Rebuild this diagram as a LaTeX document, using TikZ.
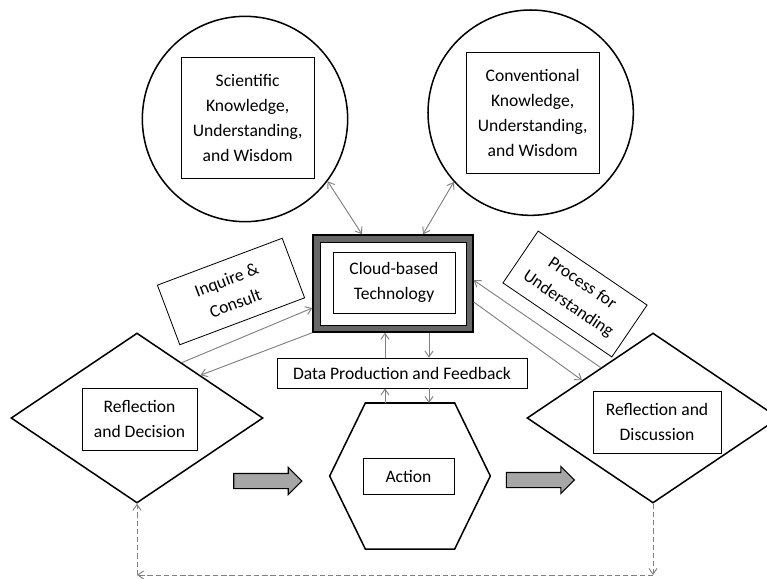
\documentclass[tikz,border=0pt]{standalone}
\usepackage{fontspec}
\setmainfont{Carlito}
\usetikzlibrary{positioning}
\usetikzlibrary{shapes.geometric,shapes.arrows,arrows.meta}

\begin{document}
\begin{tikzpicture}
                [box/.style = {draw, line width=0.7pt, align=center, inner sep=0pt},
                 circ/.style = {circle, draw, line width=1.3pt, inner sep=0pt, minimum size=6.16cm},
                 dia/.style = {diamond, draw, line width=1.3pt, inner sep=0pt, minimum width=7.56cm, minimum height=5.1cm},
                 link/.style = {gray, line width=0.8pt},
                 loopline/.style = {dash pattern=on 4.5pt off 2.5pt},
                 bigarrow/.style = {single arrow, draw, line width=0.9pt, fill=gray!70, inner xsep=0pt, inner ysep=0.21cm, minimum height=2.04cm, single arrow head extend=0.18cm},
                 >={Straight Barb[length=5pt,width=7pt]},
                 every node/.style = {font=\fontsize{15pt}{21.3pt}\selectfont}]
                \useasboundingbox (0,0) rectangle (23.01,-17.34);
                % Knowledge circles
                \node[circ] (lcirc) at (7.35,-3.57) {};
                \node[circ] (rcirc) at (15.92,-3.38) {};
                \node[box, minimum width=3.99cm, minimum height=3.63cm] (sci) at (7.43,-3.53) {Scientific\\Knowledge,\\Understanding,\\and Wisdom};
                \node[box, minimum width=3.99cm, minimum height=3.63cm] (conv) at (15.98,-3.38) {Conventional\\Knowledge,\\Understanding,\\and Wisdom};
                % Cloud technology in its thick frame
                \node[draw, line width=1.2pt, fill=black!60, minimum width=4.8cm, minimum height=2.91cm] (cloudframe) at (11.79,-8.505) {};
                \node[draw, line width=0.8pt, fill=white, minimum width=4.38cm, minimum height=2.49cm] (cloudgap) at (cloudframe) {};
                \node[box, minimum width=3.66cm, minimum height=1.83cm] (cloud) at (11.82,-8.475) {Cloud-based\\Technology};
                % Tilted labels
                \node[box, rotate=20.6, minimum width=4cm, minimum height=1.91cm] (inq) at (6.93,-8.745) {Inquire \&\\Consult};
                \node[box, rotate=-34.2, minimum width=3.95cm, minimum height=1.88cm] (proc) at (17.25,-8.82) {Process for\\Understanding};
                % Reflection diamonds
                \node[dia] (ldia) at (4.11,-12.54) {};
                \node[dia] (rdia) at (19.59,-12.54) {};
                \node[box, minimum width=3.45cm, minimum height=1.86cm] (dec) at (4.185,-12.57) {Reflection\\and Decision};
                \node[box, minimum width=3.84cm, minimum height=1.86cm] (disc) at (19.71,-12.66) {Reflection and\\Discussion};
                % Data box and action hexagon
                \node[box, minimum width=7.5cm, minimum height=0.9cm] (data) at (12.06,-11.19) {Data Production and Feedback};
                \coordinate (act) at (12.3,-14.28);
                \draw[line width=1.3pt] ([shift={(-1.34,2.19)}]act) -- ([shift={(1.34,2.19)}]act) -- ([shift={(2.41,0)}]act)
                    -- ([shift={(1.34,-2.19)}]act) -- ([shift={(-1.34,-2.19)}]act) -- ([shift={(-2.41,0)}]act) -- cycle;
                \coordinate (hextop) at (12.3,-12.09);
                \node[box, minimum width=2.73cm, minimum height=1.08cm] (action) at (12.255,-14.28) {Action};
                % Flow arrows
                \node[bigarrow] (fwd1) at (7.92,-14.43) {};
                \node[bigarrow] (fwd2) at (16.1,-14.4) {};
                % Links
                \coordinate (upx) at (11.55,0);
                \coordinate (downx) at (12.87,0);
                \path[link,<->] (lcirc.-37) edge ([xshift=-0.93cm]cloudframe.north);
                \path[link,<->] (rcirc.-138) edge ([xshift=0.9cm]cloudframe.north);
                \path[link,->] (data.north -| upx) edge (cloudframe.south -| upx);
                \path[link,->] (cloudframe.south -| downx) edge (data.north -| downx);
                \path[link,->] (hextop -| upx) edge (data.south -| upx);
                \path[link,->] (data.south -| downx) edge (hextop -| downx);
                \path[link,->] (ldia.51) edge ([yshift=-0.735cm]cloudframe.west);
                \path[link,->] (cloudframe.south west) edge (ldia.34);
                \path[link,->] (rdia.136) edge ([yshift=0.1cm]cloudframe.east);
                \path[link,->] ([yshift=-0.555cm]cloudframe.east) edge (rdia.152);
                % Dashed loop back
                \coordinate (rcorner) at (19.59,-17.25);
                \coordinate (lcorner) at (4.11,-17.25);
                \path[link,loopline,->] (rdia.south) edge (rcorner);
                \path[link,loopline,->] (rcorner) edge (lcorner);
                \path[link,loopline,->] (lcorner) edge (ldia.south);
            \end{tikzpicture}
\end{document}
